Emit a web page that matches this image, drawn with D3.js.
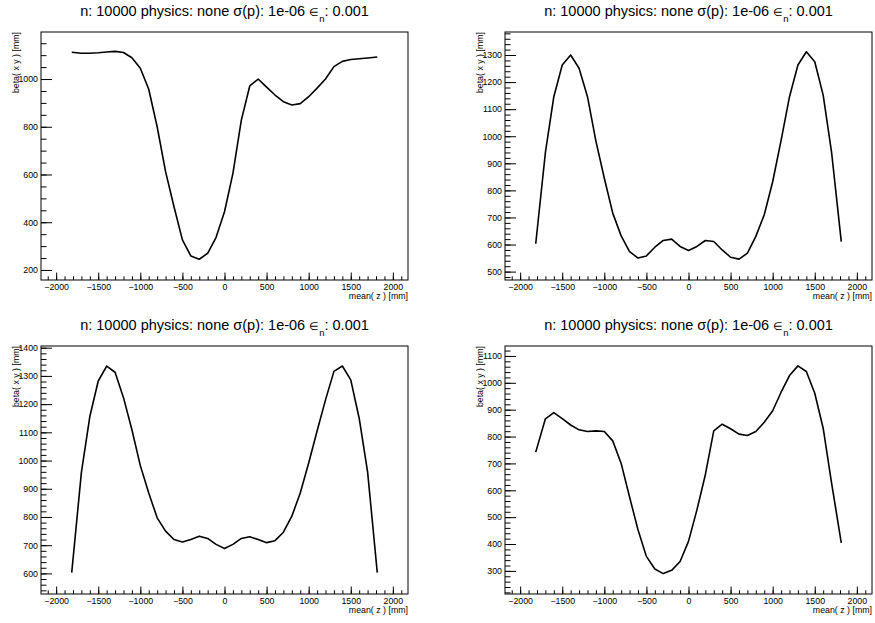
<!DOCTYPE html>
<html>
<head>
<meta charset="utf-8">
<script src="https://cdn.jsdelivr.net/npm/d3@7"></script>
<style>
  html, body { margin: 0; padding: 0; background: #fff; }
  svg { display: block; }
  text { font-family: "Liberation Sans", Arial, Helvetica, sans-serif; fill: #000; }
</style>
</head>
<body>
<svg id="chart" width="875" height="623"></svg>
<script>
// ---- data ----
const zValues = [-1815, -1700, -1600, -1500, -1400, -1300, -1200, -1100, -1000, -900, -800, -700, -600, -500, -400, -300, -200, -100, 0,
                 100, 200, 300, 400, 500, 600, 700, 800, 900, 1000, 1100, 1200, 1300, 1400, 1500, 1600, 1700, 1815];

const betaTopLeft = [1112, 1108, 1108, 1110, 1113, 1116, 1111, 1089, 1045, 957, 800, 612, 465, 326, 259, 245, 270, 337, 444,
                     605, 828, 971, 1000, 966, 933, 905, 891, 897, 926, 962, 1000, 1052, 1074, 1082, 1085, 1088, 1092];

const betaTopRight = [603, 940, 1146, 1263, 1300, 1251, 1146, 982, 845, 716, 632, 574, 550, 558, 590, 615, 620, 593, 578,
                      593, 615, 611, 580, 553, 546, 568, 630, 710, 832, 985, 1146, 1263, 1312, 1275, 1152, 940, 611];

const betaBottomLeft = [603, 958, 1156, 1282, 1335, 1313, 1223, 1109, 982, 885, 797, 750, 720, 711, 720, 732, 724, 703, 688,
                        703, 724, 730, 720, 709, 716, 746, 803, 885, 991, 1105, 1215, 1316, 1335, 1286, 1150, 960, 603];

const betaBottomRight = [742, 866, 889, 867, 843, 825, 819, 821, 819, 784, 700, 575, 453, 354, 307, 290, 302, 335, 410,
                         527, 658, 821, 846, 829, 809, 804, 819, 853, 896, 965, 1027, 1063, 1042, 961, 831, 627, 404];

const xMajorTicks = [-2000, -1500, -1000, -500, 0, 500, 1000, 1500, 2000];
const xMinorTicks = d3.range(-2100, 2101, 100);

const yMajorTopLeft = [200, 400, 600, 800, 1000];
const yMajorTopRight = [500, 600, 700, 800, 900, 1000, 1100, 1200, 1300];
const yMajorBottomLeft = [600, 700, 800, 900, 1000, 1100, 1200, 1300, 1400];
const yMajorBottomRight = [300, 400, 500, 600, 700, 800, 900, 1000, 1100];

const titleMain = "n: 10000 physics: none \u03C3(p): 1e-06 ";
const titleSym = "\u2208";
const titleSub = "n";
const titleEnd = ": 0.001";
const xTitle = "mean( z ) [mm]";
const yTitle = "beta( x y ) [mm]";

// ---- layout ----
const xDomain = [-2180, 2180];
const panels = [
  { data: betaTopLeft,     yDomain: [158, 1197], yMajor: yMajorTopLeft,     yMinorStep: 50, x0: 41,  x1: 408, y0: 32,  y1: 280, titleY: 16 },
  { data: betaTopRight,    yDomain: [469, 1385], yMajor: yMajorTopRight,    yMinorStep: 20, x0: 505, x1: 872, y0: 32,  y1: 280, titleY: 16 },
  { data: betaBottomLeft,  yDomain: [527, 1406], yMajor: yMajorBottomLeft,  yMinorStep: 20, x0: 41,  x1: 408, y0: 346, y1: 594, titleY: 330 },
  { data: betaBottomRight, yDomain: [214, 1137], yMajor: yMajorBottomRight, yMinorStep: 20, x0: 505, x1: 872, y0: 346, y1: 594, titleY: 330 }
];

const svg = d3.select("#chart");
svg.append("rect").attr("width", 875).attr("height", 623).attr("fill", "#fff");

const fmt = d3.format("d");

panels.forEach(p => {
  const w = p.x1 - p.x0, h = p.y1 - p.y0;
  const x = d3.scaleLinear().domain(xDomain).range([0, w]);
  const y = d3.scaleLinear().domain(p.yDomain).range([h, 0]);
  const g = svg.append("g").attr("transform", `translate(${p.x0},${p.y0})`);

  // minor ticks x
  g.append("g").attr("transform", `translate(0,${h})`)
    .call(d3.axisBottom(x).tickValues(xMinorTicks).tickFormat("").tickSizeInner(-h * 0.015).tickSizeOuter(0))
    .call(s => s.select(".domain").remove())
    .call(s => s.selectAll("line").attr("stroke", "#000").attr("stroke-width", 1));
  // major ticks x
  g.append("g").attr("transform", `translate(0,${h})`)
    .call(d3.axisBottom(x).tickValues(xMajorTicks).tickFormat(fmt).tickSizeInner(-h * 0.03).tickSizeOuter(0).tickPadding(3.5))
    .call(s => s.select(".domain").remove())
    .call(s => s.selectAll("line").attr("stroke", "#000").attr("stroke-width", 1))
    .call(s => s.selectAll("text").attr("font-size", 8.8).attr("font-family", null));

  // minor ticks y
  const yMin = Math.ceil(p.yDomain[0] / p.yMinorStep) * p.yMinorStep;
  const yMinor = d3.range(yMin, p.yDomain[1], p.yMinorStep);
  g.append("g")
    .call(d3.axisLeft(y).tickValues(yMinor).tickFormat("").tickSizeInner(-w * 0.015).tickSizeOuter(0))
    .call(s => s.select(".domain").remove())
    .call(s => s.selectAll("line").attr("stroke", "#000").attr("stroke-width", 1));
  g.append("g")
    .call(d3.axisLeft(y).tickValues(p.yMajor).tickFormat(fmt).tickSizeInner(-w * 0.03).tickSizeOuter(0).tickPadding(3))
    .call(s => s.select(".domain").remove())
    .call(s => s.selectAll("line").attr("stroke", "#000").attr("stroke-width", 1))
    .call(s => s.selectAll("text").attr("font-size", 8.8).attr("font-family", null));

  // curve
  const line = d3.line().x((d, i) => x(zValues[i])).y(d => y(d));
  g.append("path").datum(p.data)
    .attr("d", line).attr("fill", "none").attr("stroke", "#000")
    .attr("stroke-width", 1.6).attr("stroke-linejoin", "round");

  // frame
  g.append("rect").attr("x", 0).attr("y", 0).attr("width", w).attr("height", h)
    .attr("fill", "none").attr("stroke", "#000").attr("stroke-width", 1);

  // axis titles
  g.append("text").attr("x", w).attr("y", h + 18.5).attr("text-anchor", "end")
    .attr("font-size", 8.8).text(xTitle);
  g.append("text").attr("transform", `translate(${-22},0) rotate(-90)`)
    .attr("text-anchor", "end").attr("font-size", 8.8).text(yTitle);

  // title
  const t = svg.append("text").attr("x", (p.x0 + p.x1) / 2).attr("y", p.titleY)
    .attr("text-anchor", "middle").attr("font-size", 14.5);
  t.append("tspan").text(titleMain);
  t.append("tspan").attr("font-size", 11).text(titleSym);
  t.append("tspan").attr("dy", 6).attr("font-size", 9.5).text(titleSub);
  t.append("tspan").attr("dy", -6).text(titleEnd);
});
</script>
</body>
</html>
